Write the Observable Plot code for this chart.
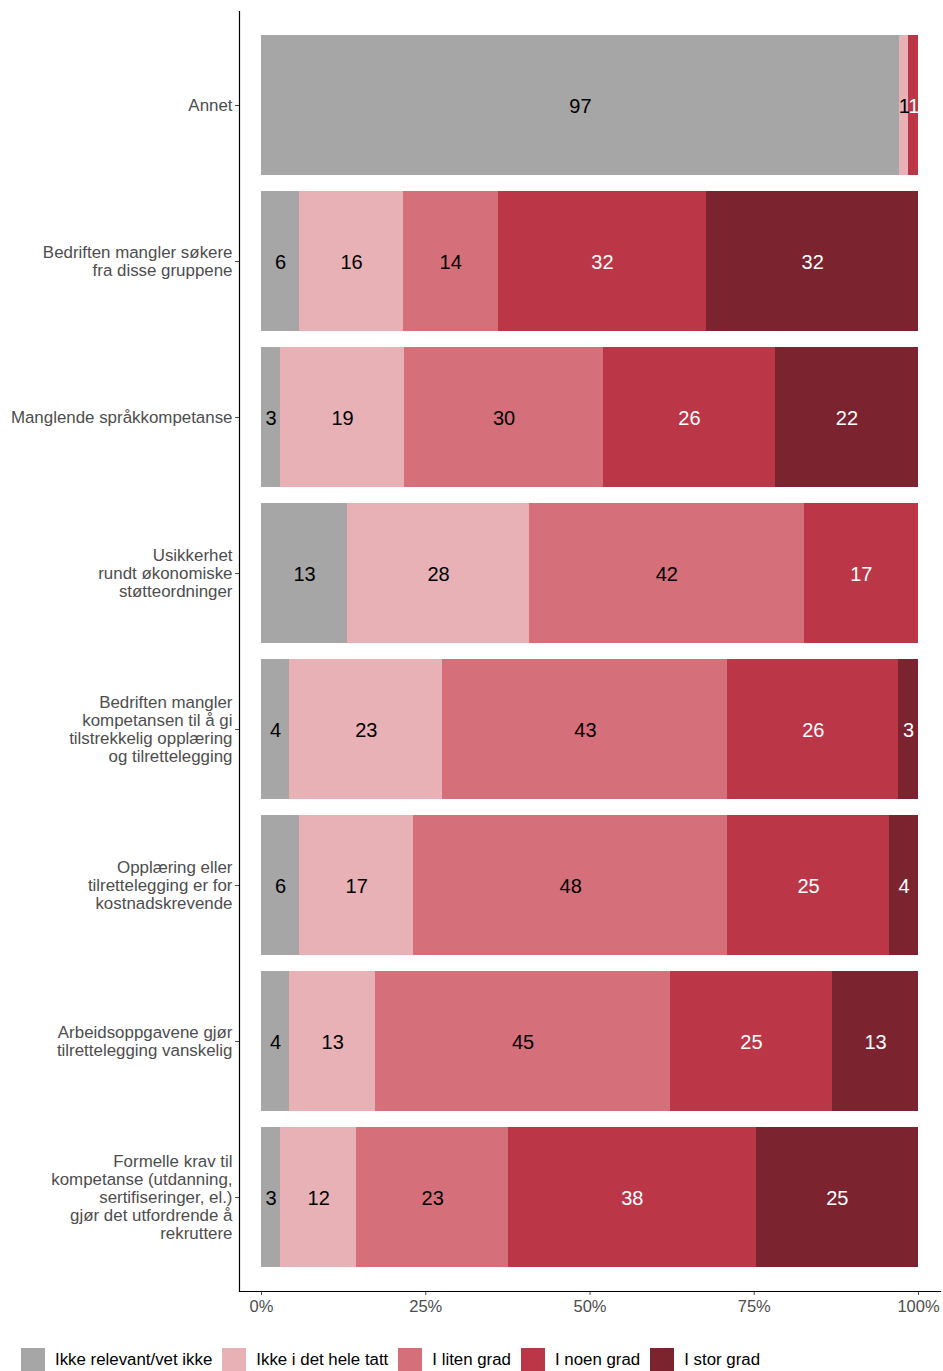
<!DOCTYPE html>
<html>
<head>
<meta charset="utf-8">
<script src="https://cdn.jsdelivr.net/npm/d3@7"></script>
<script src="https://cdn.jsdelivr.net/npm/@observablehq/plot@0.6"></script>
<style>
  body { margin: 0; background: #fff; font-family: "Liberation Sans", Arial, sans-serif; }
  #chart svg { display: block; }
  .legend { display: flex; align-items: center; margin: 28px 0 0 21px; font-size: 16.85px; color: #000; }
  .legend .item { display: flex; align-items: center; margin-right: 10px; }
  .legend .sw { width: 24px; height: 24px; margin-right: 10px; }
</style>
</head>
<body>
<div id="chart"></div>
<script>
const categories = [
  "Annet",
  "Bedriften mangler søkere\nfra disse gruppene",
  "Manglende språkkompetanse",
  "Usikkerhet\nrundt økonomiske\nstøtteordninger",
  "Bedriften mangler\nkompetansen til å gi\ntilstrekkelig opplæring\nog tilrettelegging",
  "Opplæring eller\ntilrettelegging er for\nkostnadskrevende",
  "Arbeidsoppgavene gjør\ntilrettelegging vanskelig",
  "Formelle krav til\nkompetanse (utdanning,\nsertifiseringer, el.)\ngjør det utfordrende å\nrekruttere"
];
const levels = ["Ikke relevant/vet ikke", "Ikke i det hele tatt", "I liten grad", "I noen grad", "I stor grad"];
const colors = ["#a6a6a6", "#e8b1b6", "#d5707b", "#bb3647", "#7b242f"];
const darkLevels = ["I noen grad", "I stor grad"];

// percentages per level, in category order
const ikkeRelevant = [97.1, 5.8, 2.9, 13.1, 4.3, 5.8, 4.3, 2.9];
const ikkeIHele    = [1.45, 15.8, 18.9, 27.7, 23.3, 17.4, 13.1, 11.6];
const litenGrad    = [0, 14.4, 30.3, 41.8, 43.4, 47.8, 44.9, 23.1];
const noenGrad     = [1.45, 31.8, 26.2, 17.4, 26.0, 24.7, 24.7, 37.7];
const storGrad     = [0, 32.2, 21.8, 0, 3.0, 4.4, 13.1, 24.7];
const series = [ikkeRelevant, ikkeIHele, litenGrad, noenGrad, storGrad];

const xTicks = [0, 0.25, 0.5, 0.75, 1];

const table = [];
categories.forEach((c, i) => levels.forEach((l, j) => {
  const v = series[j][i];
  if (v > 0) table.push({category: c, level: l, value: v});
}));

const stackOpts = {x: "value", y: "category", z: "level", offset: "normalize", order: levels};

const chart = Plot.plot({
  width: 943,
  height: 1320,
  marginLeft: 239,
  marginRight: 3,
  marginTop: 11,
  marginBottom: 29,
  style: {fontFamily: "Liberation Sans, Arial, sans-serif", background: "#fff"},
  x: {domain: [-0.0335, 1.0335]},
  y: {domain: categories, paddingInner: 0.1, paddingOuter: 0.15},
  color: {domain: levels, range: colors},
  marks: [
    Plot.barX(table, Plot.stackX({...stackOpts, fill: "level", shapeRendering: "crispEdges"})),
    Plot.text(table, Plot.stackX({...stackOpts,
      text: d => darkLevels.includes(d.level) ? null : String(Math.round(d.value)),
      fill: "black", fontSize: 20, dy: 1})),
    Plot.text(table, Plot.stackX({...stackOpts,
      text: d => darkLevels.includes(d.level) ? String(Math.round(d.value)) : null,
      fill: "white", fontSize: 20, dy: 1})),
    Plot.axisX({ticks: xTicks, tickFormat: d3.format(".0%"), tickSize: 4, tickPadding: 5,
      fontSize: 16.5, color: "#4d4d4d", label: null}),
    Plot.axisY({tickSize: 4, tickPadding: 3, fontSize: 16.9, lineHeight: 1.07, color: "#4d4d4d", label: null}),
    Plot.frame({anchor: "left", stroke: "black", strokeWidth: 1.2}),
    Plot.frame({anchor: "bottom", stroke: "black", strokeWidth: 1.2})
  ]
});
document.getElementById("chart").appendChild(chart);

const legend = document.createElement("div");
legend.className = "legend";
levels.forEach((l, j) => {
  const item = document.createElement("div");
  item.className = "item";
  const sw = document.createElement("span");
  sw.className = "sw";
  sw.style.background = colors[j];
  const t = document.createElement("span");
  t.textContent = l;
  item.appendChild(sw);
  item.appendChild(t);
  legend.appendChild(item);
});
document.body.appendChild(legend);
</script>
</body>
</html>
